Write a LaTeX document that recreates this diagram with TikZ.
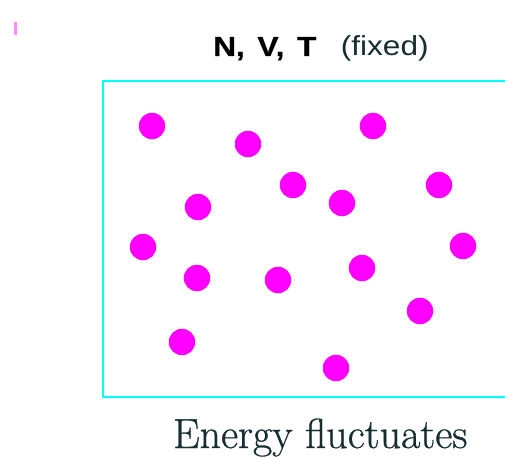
\documentclass[tikz,border=0pt]{standalone}
\usepackage{fontspec}
\usepackage{graphicx}
\newfontfamily\arialfont{Liberation Sans}
\newfontfamily\heavysans{Liberation Sans Bold}[FakeBold=0.6]
\newfontfamily\heavyserif{Latin Modern Roman}[FakeBold=0.7]
\usetikzlibrary{positioning}
\definecolor{dotmag}{RGB}{255,0,255}
\definecolor{boxcyan}{RGB}{0,255,255}
\definecolor{txtdark}{RGB}{22,45,50}

\begin{document}
\begin{tikzpicture}[
  x = 1pt, y = -1pt,
  particle/.style = {circle, fill=dotmag, inner sep=0pt,
                     minimum size=26.5pt},
  wall/.style     = {draw=boxcyan, line width=2pt},
  lbl/.style      = {anchor=base west, inner sep=0pt, text=txtdark},
  sanslbl/.style  = {lbl, font=\arialfont\fontsize{27.5}{30}\selectfont},
  boldlbl/.style  = {lbl, text=black,
                     font=\heavysans\fontsize{27.5}{30}\selectfont}
]
\useasboundingbox (0,0) rectangle (505,457);
% stray mark
\fill[dotmag!45] (14,22) rectangle (17,35);
% container, open on the right
\draw[wall] (505,81) -- (102.5,81) -- (102.5,397) -- (505,397);
% particles
\node[particle] (p1)  at (152,126) {};
\node[particle] (p2)  at (248,144) {};
\node[particle] (p3)  at (373,126) {};
\node[particle] (p4)  at (293,185) {};
\node[particle] (p5)  at (342,203) {};
\node[particle] (p6)  at (439,185) {};
\node[particle] (p7)  at (198,207) {};
\node[particle] (p8)  at (143,247) {};
\node[particle] (p9)  at (463,246) {};
\node[particle] (p10) at (197,278) {};
\node[particle] (p11) at (278,280) {};
\node[particle] (p12) at (362,268) {};
\node[particle] (p13) at (420,311) {};
\node[particle] (p14) at (182,342) {};
\node[particle] (p15) at (336,368) {};
% labels
\node[boldlbl] (nvt) at (213,56)
  {\scalebox{1.15}[1]{N,\hspace{11pt}V,\hspace{11pt}T}};
\node[sanslbl, base right=24pt of nvt] (fixed)
  {\scalebox{1.15}[1]{(fixed)}};
\node[lbl, font=\heavyserif\fontsize{42}{46}\selectfont] (energy)
  at (173,448) {Energy fluctuates};
\end{tikzpicture}
\end{document}
